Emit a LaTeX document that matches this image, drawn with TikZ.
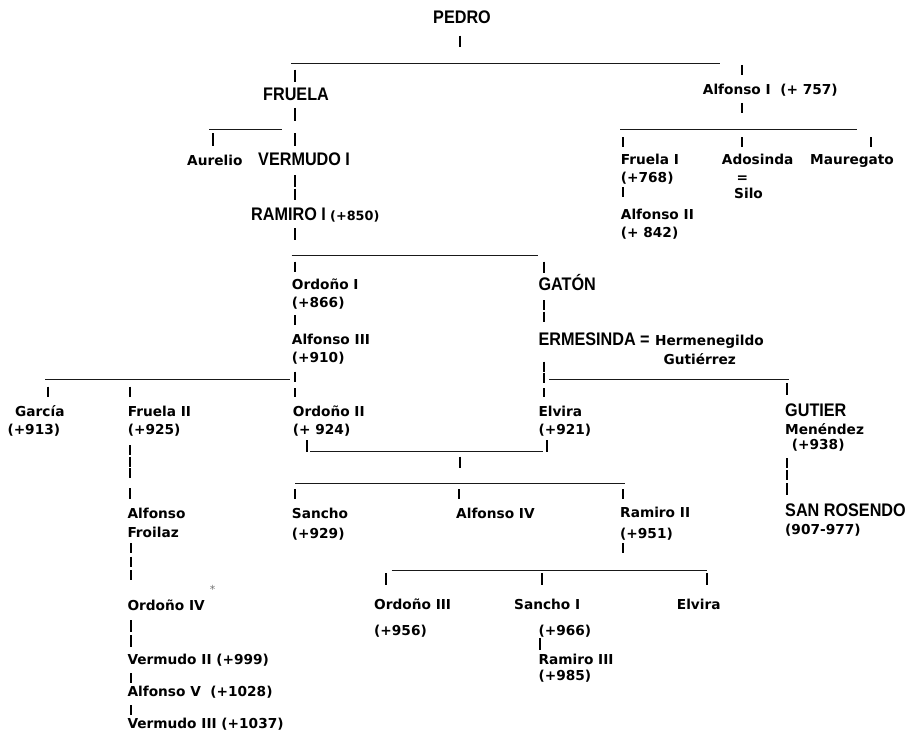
\documentclass[tikz,border=0pt]{standalone}
\usepackage{fontspec}
\setmainfont{DejaVu Sans}
\newfontfamily\capsfont{Liberation Sans}[FakeStretch=0.89]

\tikzset{
  nm/.style={inner sep=0pt, anchor=base west, font=\bfseries\fontsize{13.7}{16}\selectfont},
  nmc/.style={nm, anchor=base},
  royal/.style={inner sep=0pt, anchor=base west, font=\capsfont\bfseries\fontsize{18.2}{20}\selectfont},
  note/.style={nm, font=\bfseries\fontsize{12.8}{15}\selectfont},
  star/.style={inner sep=0pt, text=black!55, font=\fontsize{11}{12}\selectfont},
  pipe/.style={line width=1.8pt, black},
  rule/.style={line width=0.9pt, black!90},
}

\begin{document}
\begin{tikzpicture}[x=1pt, y=-1pt]
\useasboundingbox (0,0) rectangle (912,733);

% ---------- names ----------
\node[royal] (pedro)   at (433,24)      {PEDRO};
\node[royal] (fruela)  at (263,100.7)   {FRUELA};
\node[nm]    (alfI)    at (702.7,95)    {Alfonso I\ \ (+ 757)};
\node[nm]    (aurelio) at (187,165.5)   {Aurelio};
\node[royal] (vermI)   at (258,165)     {VERMUDO I};
\node[royal] (ramI)    at (251,220)     {RAMIRO I};
\node[note]  (ramId)   at (330,220)     {(+850)};

\node[nm] (fruI)   at (620.7,164.8) {Fruela I};
\node[nm] (fruId)  at (620.7,182.8) {(+768)};
\node[nm] (alfII)  at (620.7,219.8) {Alfonso II};
\node[nm] (alfIId) at (620.7,237.8) {(+ 842)};
\node[nm] (ados)   at (721.7,164.8) {Adosinda};
\node[nmc] (adoseq) at (742.3,182.6) {=};
\node[nm] (silo)   at (734,198.8)   {Silo};
\node[nm] (maure)  at (810,164.8)   {Mauregato};

\node[nm] (ordI)    at (291.7,289.8) {Ordoño I};
\node[nm] (ordId)   at (291.7,307.8) {(+866)};
\node[nm] (alfIII)  at (291.7,344.8) {Alfonso III};
\node[nm] (alfIIId) at (291.7,362.8) {(+910)};
\node[royal] (gaton) at (538.3,290)  {GATÓN};
\node[royal] (ermes) at (538.3,345)  {ERMESINDA =};
\node[nm] (herm)    at (655,345)     {Hermenegildo};
\node[nm] (gutz)    at (663.3,364)   {Gutiérrez};

\node[nm] (garcia)  at (15,416)      {García};
\node[nm] (garciad) at (7.3,434.5)   {(+913)};
\node[nm] (fruII)   at (127.7,416)   {Fruela II};
\node[nm] (fruIId)  at (127.7,434.5) {(+925)};
\node[nm] (ordII)   at (292.7,416)   {Ordoño II};
\node[nm] (ordIId)  at (292.7,434.5) {(+ 924)};
\node[nm] (elv)     at (538.3,416)   {Elvira};
\node[nm] (elvd)    at (538.3,434.5) {(+921)};
\node[royal] (gutier) at (785,416.7) {GUTIER};
\node[nm] (menen)   at (785,434.8)   {Menéndez};
\node[nm] (menend)  at (791.7,449.5) {(+938)};

\node[nm] (alfFr)   at (127.3,518)   {Alfonso};
\node[nm] (froil)   at (127.3,537.5) {Froilaz};
\node[nm] (sancho)  at (291.7,518)   {Sancho};
\node[nm] (sanchod) at (291.7,538)   {(+929)};
\node[nm] (alfIV)   at (456,518)     {Alfonso IV};
\node[nm] (ramII)   at (620,517.5)   {Ramiro II};
\node[nm] (ramIId)  at (620,538)     {(+951)};
\node[royal] (rosendo) at (785,516.7) {SAN ROSENDO};
\node[nm] (rosendod) at (785,534.5)  {(907-977)};

\node[nm] (ordIII)  at (374,609.8)   {Ordoño III};
\node[nm] (ordIIId) at (374,635)     {(+956)};
\node[nm] (sanI)    at (514,609.8)   {Sancho I};
\node[nm] (sanId)   at (538.3,635)   {(+966)};
\node[nm] (ramIII)  at (538.3,664)   {Ramiro III};
\node[nm] (ramIIId) at (538.3,680.5) {(+985)};
\node[nm] (elvII)   at (676.7,609.8) {Elvira};

\node[nm] (ordIV)   at (127.3,610.8) {Ordoño IV};
\node[star] (ast)   at (212.7,589.5) {*};
\node[nm] (vermII)  at (127.3,664.8) {Vermudo II (+999)};
\node[nm] (alfV)    at (127.3,696.5) {Alfonso V\ \ (+1028)};
\node[nm] (vermIII) at (127.3,728)   {Vermudo III (+1037)};

% ---------- horizontal rules ----------
\draw[rule] (291,63.6)    -- (720,63.6);
\draw[rule] (209,129.3)   -- (281.7,129.3);
\draw[rule] (620,129.3)   -- (856.7,129.3);
\draw[rule] (291.7,255)   -- (538.3,255);
\draw[rule] (45,379.3)    -- (290,379.3);
\draw[rule] (549.3,379.3) -- (789.3,379.3);
\draw[rule] (310,451.7)   -- (543.3,451.7);
\draw[rule] (295,483)     -- (625,483);
\draw[rule] (391.7,570.7) -- (706.7,570.7);

% ---------- vertical strokes ----------
\foreach \x/\a/\b in {
  459.6/35.7/47, 742.3/65/75, 295/69.6/82,
  295/108/121, 295/133/146, 212.7/133/146,
  742.3/103/113, 623/137/147, 742.3/137/147, 870.7/137/147,
  623/187/197,
  295/175/186.7, 295/188.5/200, 295/228/240,
  295/261.7/271.7, 544/261.7/273, 295/315/325,
  544/300/310, 544/311.7/321.7,
  544/361.7/371.7, 544/373/383, 544/388/397,
  295/371.7/381.7, 295/388/397,
  48.3/386.7/396.7, 130/386.7/396.7, 786.7/383/395,
  130/445/455, 130/456.7/466.7, 130/468.3/478.3, 130/488/499,
  307.3/440/451.7, 546.7/440/451.7, 460/456.7/468.3,
  295/489/499, 459.3/489/499, 622.7/489/499,
  786.7/458/468, 786.7/470/480, 786.7/483/495,
  622.7/543/553,
  386/573/585, 541.7/573/585, 706.7/573/585,
  540/638/650,
  130.7/543/553, 130.7/556.7/567.3, 130.7/570/580,
  130.7/620/631.7, 130.7/635/646.7,
  130.7/673/683, 130.7/705/715}
  \draw[pipe] (\x,\a) -- (\x,\b);
\end{tikzpicture}
\end{document}
